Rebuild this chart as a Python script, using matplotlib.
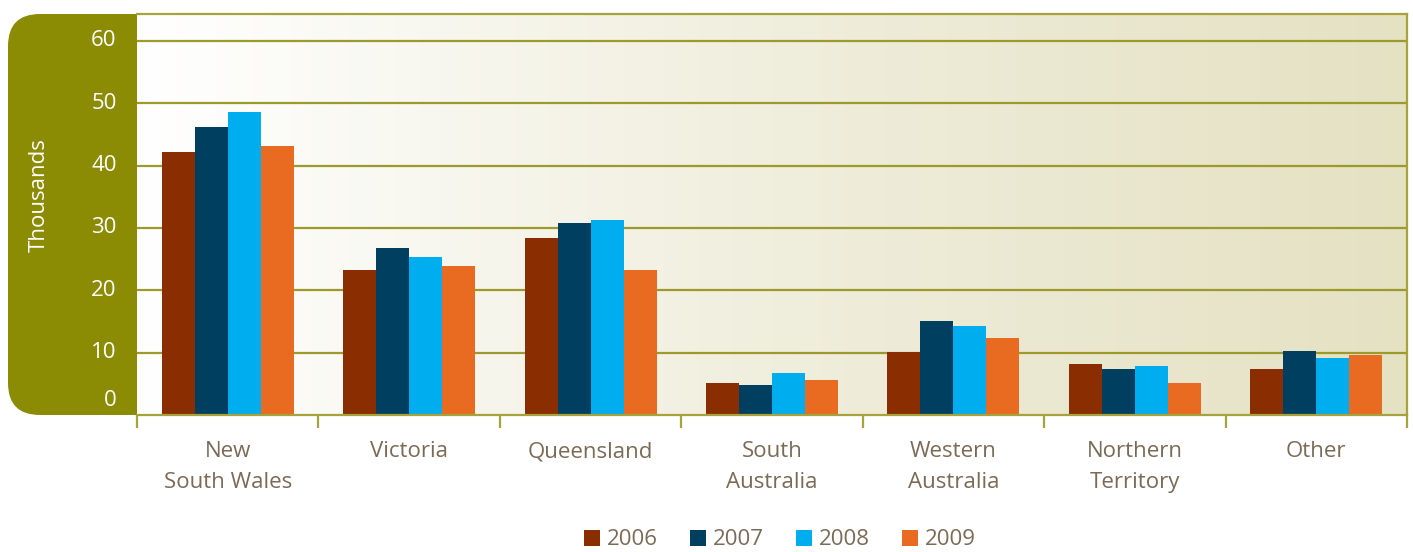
import matplotlib.pyplot as plt
import numpy as np
from matplotlib.patches import FancyBboxPatch
from matplotlib.colors import LinearSegmentedColormap
import matplotlib.transforms as mtransforms

plt.rcParams['font.family'] = ['Open Sans', 'DejaVu Sans']

# data (thousands)
regions = ['New\nSouth Wales', 'Victoria', 'Queensland', 'South\nAustralia',
           'Western\nAustralia', 'Northern\nTerritory', 'Other']
years = ['2006', '2007', '2008', '2009']
v2006 = [42.2, 23.3, 28.4, 5.1, 10.1, 8.2, 7.4]
v2007 = [46.2, 26.8, 30.8, 4.8, 15.1, 7.4, 10.3]
v2008 = [48.6, 25.4, 31.3, 6.7, 14.3, 7.9, 9.1]
v2009 = [43.2, 23.9, 23.3, 5.6, 12.4, 5.1, 9.6]
yticks = [0, 10, 20, 30, 40, 50, 60]

colors = ['#8A2E02', '#003F5F', '#00AEEF', '#E96B21']
olive = '#8C8B04'
grid_col = '#9C9A2A'
text_col = '#7A6A56'

W, H = 1413, 552
fig = plt.figure(figsize=(W / 100, H / 100), dpi=100)

# background layer in pixel coordinates for the rounded olive panel
bg = fig.add_axes([0, 0, 1, 1], zorder=0)
bg.set_xlim(0, W)
bg.set_ylim(H, 0)
bg.axis('off')
panel = FancyBboxPatch((8, 14), 200, 401, boxstyle='round,pad=0,rounding_size=32',
                       facecolor=olive, edgecolor='none')
bg.add_patch(panel)

ax = fig.add_axes([137 / W, (H - 415) / H, (1407 - 137) / W, (415 - 14) / H], zorder=1)
ax.set_xlim(-0.5, len(regions) - 0.5)
ax.set_ylim(0, 64.3)

# gradient background
cmap = LinearSegmentedColormap.from_list('bg', ['#FFFFFF', '#F0EEDD', '#E5E1C3'])
ax.imshow(np.linspace(0, 1, 256).reshape(1, -1), cmap=cmap, aspect='auto',
          extent=[-0.5, len(regions) - 0.5, 0, 64.3], zorder=0)

for y in yticks[1:]:
    ax.axhline(y, color=grid_col, lw=1.6, zorder=1)

x = np.arange(len(regions))
w = 0.182
for i, (vals, yr) in enumerate(zip([v2006, v2007, v2008, v2009], years)):
    ax.bar(x + (i - 1.5) * w, vals, w, color=colors[i], label=yr, zorder=2)

for s in ['top', 'right', 'bottom']:
    ax.spines[s].set_color('#A6A33C')
    ax.spines[s].set_linewidth(1.6)
ax.spines['left'].set_visible(False)

# y tick labels inside olive panel
ax.set_yticks([])
trans = mtransforms.blended_transform_factory(ax.transAxes, ax.transData)
for v in yticks:
    off = 2.4 if v == 0 else 0
    ax.text(-0.016, v + off, str(v), transform=trans, ha='right', va='center',
            color='white', fontsize=16)
fig.text(39 / W, 1 - 195 / H, 'Thousands', rotation=90, ha='center', va='center',
         color='white', fontsize=16)

# x axis: boundary ticks + centered labels
ax.set_xticks(x)
ax.set_xticklabels(regions, color=text_col, fontsize=16, linespacing=1.6)
ax.tick_params(axis='x', which='major', length=0, pad=19)
ax.set_xticks(np.arange(-0.5, len(regions), 1), minor=True)
ax.tick_params(axis='x', which='minor', length=9, width=1.6, color='#A6A33C', direction='out')

leg = fig.legend(loc='center', bbox_to_anchor=(0.552, 0.022), ncol=4, frameon=False,
                 fontsize=16, handlelength=0.72, handleheight=0.72, handletextpad=0.3,
                 columnspacing=1.45, labelcolor=text_col, borderpad=0.2)

fig.savefig('out.png', dpi=100)
